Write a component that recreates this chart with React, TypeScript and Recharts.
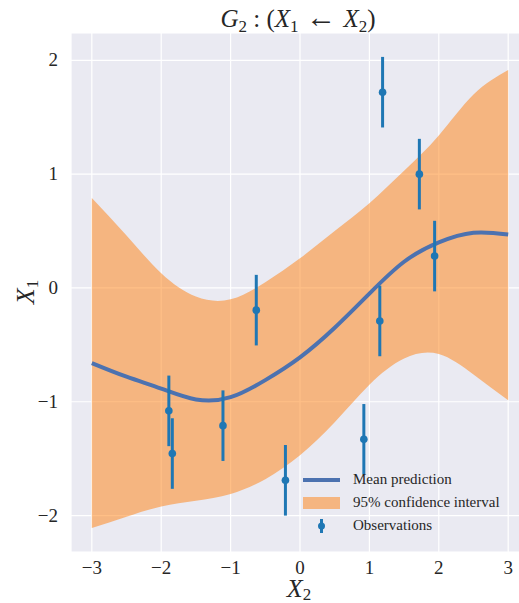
import React from 'react';
import { ComposedChart, Area, Line, Scatter, ErrorBar, XAxis, YAxis, CartesianGrid } from 'recharts';

// GP prediction
const gridX = [-3, -2.5, -2, -1.5, -1, -0.5, 0, 0.5, 1, 1.5, 2, 2.5, 3];
const meanY = [-0.66, -0.78, -0.885, -0.98, -0.96, -0.81, -0.61, -0.35, -0.05, 0.23, 0.4, 0.485, 0.47];
const lowY = [-2.11, -2.01, -1.92, -1.87, -1.81, -1.68, -1.47, -1.18, -0.85, -0.62, -0.58, -0.76, -0.986];
const highY = [0.79, 0.46, 0.13, -0.075, -0.1, 0.05, 0.26, 0.5, 0.745, 1.03, 1.34, 1.7, 1.915];

// observations with error bars
const obsX = [-1.89, -1.84, -1.11, -0.63, -0.21, 0.92, 1.15, 1.19, 1.72, 1.94];
const obsY = [-1.08, -1.455, -1.21, -0.195, -1.69, -1.33, -0.29, 1.72, 1.0, 0.28];
const obsErr = [0.31, 0.31, 0.31, 0.31, 0.31, 0.31, 0.31, 0.31, 0.31, 0.31];

const xTicks = [-3, -2, -1, 0, 1, 2, 3];
const yTicks = [-2, -1, 0, 1, 2];

const curve = gridX.map((x, i) => ({ x, mean: meanY[i], band: [lowY[i], highY[i]] }));
const obs = obsX.map((x, i) => ({ x, y: obsY[i], err: obsErr[i] }));

const FONT = '"Liberation Serif", "DejaVu Serif", serif';
const TXT = '#262626';
const fmt = (v: number) => (v < 0 ? `\u2212${Math.abs(v)}` : `${v}`);

const Dot = (p: any) => <circle cx={p.cx} cy={p.cy} r={3.8} fill="#1f77b4" />;

const XTick = (p: any) => (
  <text x={p.x} y={p.y + 10} textAnchor="middle" style={{ fontFamily: FONT, fontSize: 19, fill: TXT }}>
    {fmt(p.payload.value)}
  </text>
);
const YTick = (p: any) => (
  <text x={p.x} y={p.y + 6} textAnchor="end" style={{ fontFamily: FONT, fontSize: 19, fill: TXT }}>
    {fmt(p.payload.value)}
  </text>
);

const App: React.FC = () => {
  return (
    <div style={{ position: 'absolute', left: 0, top: 0, width: 519, height: 603, overflow: 'hidden', background: '#fff', fontFamily: FONT }}>
      <ComposedChart width={529} height={603} data={curve} margin={{ top: 33, right: 0, left: 11, bottom: 0 }}>
        <CartesianGrid fill="#eaeaf2" fillOpacity={1} stroke="#ffffff" strokeWidth={1.2} />
        <XAxis
          type="number"
          dataKey="x"
          domain={[-3.3, 3.3]}
          ticks={xTicks}
          axisLine={false}
          tickLine={false}
          tickMargin={6}
          height={51}
          tick={XTick}
        />
        <YAxis
          type="number"
          domain={[-2.32, 2.24]}
          ticks={yTicks}
          axisLine={false}
          tickLine={false}
          tickMargin={7}
          width={60}
          tick={YTick}
        />
        <Area
          type="natural"
          dataKey="band"
          stroke="none"
          fill="#ff7f0e"
          fillOpacity={0.5}
          isAnimationActive={false}
        />
        <Line
          type="natural"
          dataKey="mean"
          stroke="#4c72b0"
          strokeWidth={4}
          dot={false}
          isAnimationActive={false}
        />
        <Scatter data={obs} dataKey="y" shape={Dot} isAnimationActive={false}>
          <ErrorBar dataKey="err" direction="y" width={0} stroke="#1f77b4" strokeWidth={3} />
        </Scatter>
      </ComposedChart>

      {/* title and axis labels */}
      <svg width={519} height={603} style={{ position: 'absolute', left: 0, top: 0, pointerEvents: 'none' }}>
        <text x={298} y={27} textAnchor="middle" style={{ fontFamily: FONT, fontSize: 25, fill: TXT }}>
          <tspan fontStyle="italic">G</tspan>
          <tspan fontSize={17} dy={5}>2</tspan>
          <tspan dy={-5}> : (</tspan>
          <tspan fontStyle="italic">X</tspan>
          <tspan fontSize={17} dy={5}>1</tspan>
          <tspan dy={-5} fontSize={30}> {'\u2190'} </tspan>
          <tspan fontStyle="italic">X</tspan>
          <tspan fontSize={17} dy={5}>2</tspan>
          <tspan dy={-5}>)</tspan>
        </text>
        <text x={299} y={597} textAnchor="middle" style={{ fontFamily: FONT, fontSize: 26, fill: TXT }}>
          <tspan fontStyle="italic">X</tspan>
          <tspan fontSize={17} dy={3}>2</tspan>
        </text>
        <text x={34} y={292} textAnchor="middle" transform="rotate(-90 34 292)" style={{ fontFamily: FONT, fontSize: 26, fill: TXT }}>
          <tspan fontStyle="italic">X</tspan>
          <tspan fontSize={17} dy={4}>1</tspan>
        </text>
      </svg>

      {/* legend */}
      <div style={{ position: 'absolute', left: 300, top: 468, fontSize: 15, color: TXT, lineHeight: '23px' }}>
        <div style={{ display: 'flex', alignItems: 'center' }}>
          <span style={{ width: 37, height: 4, background: '#4c72b0', marginRight: 13, marginLeft: 3 }} />
          Mean prediction
        </div>
        <div style={{ display: 'flex', alignItems: 'center' }}>
          <span style={{ width: 37, height: 12, background: '#ff7f0e', opacity: 0.5, marginRight: 13, marginLeft: 3 }} />
          95% confidence interval
        </div>
        <div style={{ display: 'flex', alignItems: 'center' }}>
          <svg width={37} height={16} style={{ marginRight: 13, marginLeft: 3 }}>
            <line x1={18.5} y1={1} x2={18.5} y2={15} stroke="#1f77b4" strokeWidth={3} />
            <circle cx={18.5} cy={8} r={3.5} fill="#1f77b4" />
          </svg>
          Observations
        </div>
      </div>
    </div>
  );
};

export default App;
